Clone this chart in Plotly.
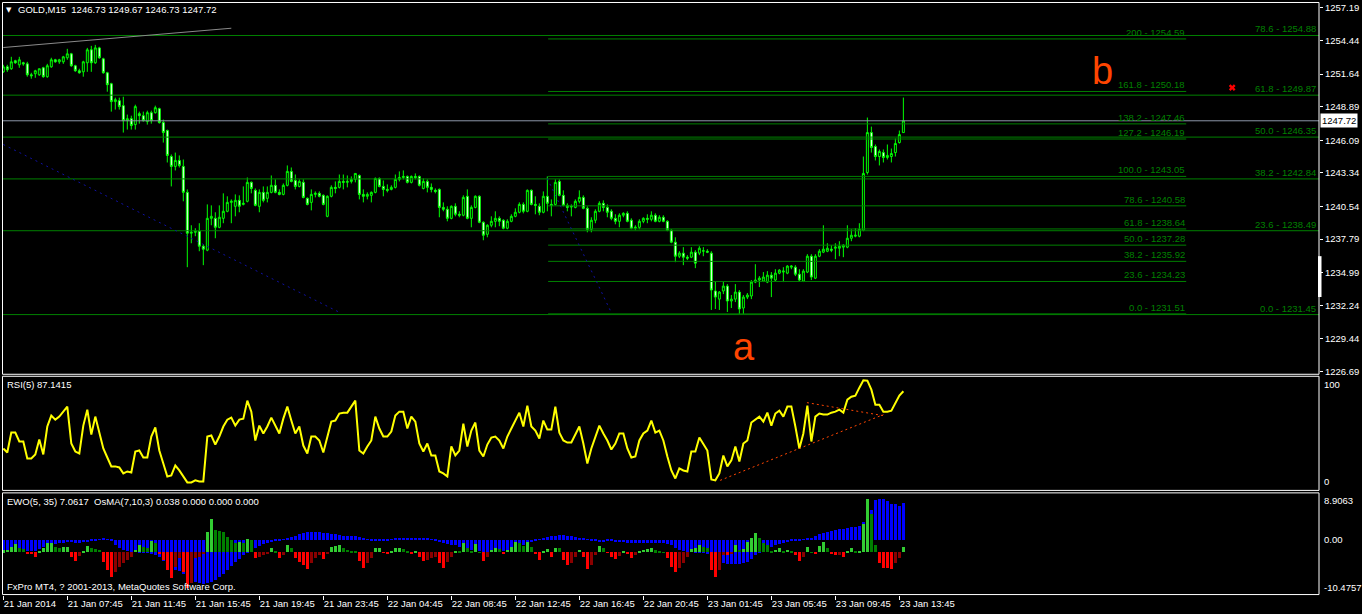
import plotly.graph_objects as go

W, H = 1362, 614

# ---------------- data ----------------
opens = [
    1251.83, 1252.25, 1252.09, 1252.76, 1252.42, 1252.59, 1252.50, 1251.58, 1251.67, 1251.58,
    1252.17, 1251.42, 1252.25, 1252.84, 1252.67, 1252.67, 1253.01, 1253.34, 1252.34, 1251.92,
    1251.83, 1252.59, 1253.68, 1252.59, 1253.84, 1252.92, 1251.75, 1250.83, 1249.33, 1249.41,
    1248.99, 1247.73, 1247.90, 1247.40, 1248.32, 1248.15, 1247.65, 1248.40, 1248.40, 1248.74,
    1247.57, 1246.90, 1244.72, 1243.89, 1244.39, 1243.89, 1241.71, 1238.28, 1238.36, 1238.45,
    1237.19, 1236.86, 1239.53, 1239.53, 1238.78, 1239.53, 1240.12, 1240.87, 1240.54, 1241.04,
    1240.70, 1240.96, 1242.55, 1241.88, 1240.54, 1241.71, 1241.21, 1241.71, 1242.30, 1241.71,
    1241.54, 1242.30, 1243.47, 1242.71, 1242.21, 1242.55, 1241.21, 1240.87, 1241.54, 1241.63,
    1241.46, 1239.70, 1241.38, 1242.13, 1242.13, 1242.63, 1242.55, 1242.63, 1242.80, 1243.13,
    1241.54, 1241.38, 1241.46, 1241.71, 1242.88, 1242.21, 1241.96, 1241.96, 1242.13, 1242.80,
    1242.96, 1243.05, 1242.55, 1243.05, 1243.05, 1242.04, 1242.63, 1242.13, 1241.88, 1241.96,
    1240.45, 1240.29, 1239.53, 1240.54, 1239.87, 1239.79, 1241.38, 1239.53, 1240.45, 1241.38,
    1239.20, 1238.19, 1238.95, 1239.28, 1239.53, 1239.37, 1238.70, 1239.28, 1239.70, 1240.04,
    1240.70, 1240.12, 1241.88, 1240.70, 1240.54, 1240.04, 1241.38, 1240.70, 1240.70, 1242.63,
    1241.46, 1240.62, 1240.54, 1240.45, 1240.96, 1241.29, 1240.37, 1238.61, 1239.37, 1240.12,
    1240.79, 1240.45, 1240.12, 1239.53, 1239.28, 1239.79, 1239.95, 1239.37, 1238.70, 1238.78,
    1239.28, 1239.53, 1239.45, 1239.79, 1239.28, 1239.62, 1239.28, 1238.53, 1237.53, 1236.35,
    1236.61, 1236.27, 1236.27, 1236.69, 1236.61, 1236.77, 1236.77, 1236.61, 1233.43, 1232.75,
    1233.43, 1233.84, 1232.59, 1232.75, 1233.34, 1232.00, 1232.92, 1233.01, 1234.18, 1234.35,
    1234.26, 1234.18, 1234.76, 1234.35, 1234.93, 1235.02, 1234.93, 1235.43, 1235.43, 1234.84,
    1234.26, 1235.02, 1236.35, 1234.51, 1236.35, 1236.69, 1236.77, 1236.94, 1237.02, 1237.02,
    1237.11, 1237.11, 1237.86, 1238.03, 1238.03, 1238.53, 1243.38, 1246.73, 1245.56, 1244.72,
    1245.05, 1244.64, 1244.72, 1245.05, 1245.89, 1246.73,
]
highs = [
    1252.42, 1252.42, 1253.09, 1252.84, 1253.09, 1252.67, 1252.67, 1251.75, 1252.00, 1252.09,
    1252.25, 1252.50, 1253.01, 1252.92, 1252.92, 1253.17, 1253.76, 1253.42, 1252.42, 1252.09,
    1252.76, 1253.84, 1254.01, 1254.09, 1253.93, 1253.01, 1251.83, 1250.91, 1249.66, 1249.66,
    1249.74, 1248.24, 1248.15, 1249.07, 1248.49, 1248.49, 1248.57, 1248.57, 1248.99, 1248.82,
    1247.82, 1246.98, 1244.89, 1245.05, 1244.81, 1244.47, 1241.96, 1238.95, 1238.70, 1239.12,
    1237.36, 1240.70, 1240.62, 1240.04, 1240.62, 1241.63, 1241.38, 1241.12, 1241.54, 1241.46,
    1242.21, 1242.96, 1242.63, 1242.04, 1241.96, 1242.21, 1242.21, 1243.13, 1242.80, 1241.96,
    1242.46, 1243.97, 1243.80, 1243.21, 1242.80, 1242.80, 1241.29, 1241.96, 1241.79, 1241.79,
    1241.54, 1241.46, 1242.30, 1242.63, 1243.21, 1243.21, 1243.13, 1243.05, 1243.30, 1243.21,
    1241.96, 1241.71, 1241.79, 1242.96, 1242.96, 1242.71, 1242.38, 1242.30, 1243.21, 1243.47,
    1243.55, 1243.13, 1243.13, 1243.30, 1243.13, 1242.88, 1242.80, 1242.46, 1242.04, 1242.04,
    1240.87, 1240.54, 1240.62, 1240.79, 1240.12, 1241.46, 1241.96, 1240.62, 1241.46, 1241.46,
    1239.28, 1239.03, 1239.70, 1240.12, 1239.70, 1239.45, 1239.45, 1239.87, 1240.37, 1240.87,
    1240.87, 1241.96, 1241.96, 1241.38, 1240.79, 1241.79, 1243.05, 1241.12, 1242.80, 1242.80,
    1241.88, 1240.79, 1240.70, 1241.12, 1241.88, 1241.46, 1240.54, 1239.62, 1240.29, 1240.96,
    1241.04, 1240.70, 1240.29, 1239.87, 1239.95, 1240.04, 1240.12, 1239.53, 1238.95, 1239.45,
    1239.62, 1239.87, 1240.12, 1239.95, 1239.79, 1239.79, 1239.37, 1238.61, 1237.94, 1236.77,
    1237.11, 1236.44, 1237.11, 1236.86, 1237.19, 1237.11, 1236.94, 1236.77, 1234.26, 1233.43,
    1234.18, 1234.01, 1233.09, 1234.01, 1233.51, 1233.09, 1233.26, 1234.35, 1235.68, 1234.68,
    1235.02, 1235.10, 1235.02, 1235.26, 1235.26, 1235.43, 1235.60, 1235.60, 1235.60, 1235.26,
    1235.26, 1236.52, 1236.52, 1236.52, 1236.94, 1238.95, 1237.44, 1237.27, 1237.44, 1237.61,
    1237.36, 1238.95, 1238.61, 1238.70, 1239.12, 1244.72, 1247.99, 1247.23, 1245.73, 1245.31,
    1245.31, 1245.73, 1245.39, 1246.23, 1246.90, 1249.67,
]
lows = [
    1251.75, 1251.83, 1252.00, 1252.50, 1252.17, 1252.34, 1251.42, 1251.25, 1251.33, 1251.50,
    1251.33, 1251.33, 1252.17, 1252.59, 1252.50, 1252.50, 1252.84, 1252.25, 1251.83, 1251.67,
    1251.42, 1251.83, 1251.83, 1252.50, 1252.92, 1251.67, 1250.16, 1248.49, 1248.66, 1248.66,
    1246.73, 1246.98, 1246.98, 1246.98, 1247.48, 1247.65, 1247.40, 1247.48, 1248.32, 1247.48,
    1245.89, 1244.22, 1242.21, 1243.55, 1243.80, 1240.96, 1235.43, 1237.44, 1238.03, 1236.77,
    1235.60, 1236.77, 1238.95, 1237.86, 1238.70, 1239.12, 1240.04, 1239.12, 1239.70, 1240.04,
    1240.62, 1240.87, 1241.63, 1240.54, 1240.04, 1240.87, 1240.87, 1241.63, 1241.63, 1241.46,
    1241.46, 1242.21, 1242.55, 1241.96, 1242.13, 1241.21, 1240.62, 1240.20, 1241.29, 1241.29,
    1240.62, 1239.62, 1241.29, 1241.63, 1242.04, 1241.96, 1242.13, 1242.46, 1242.55, 1241.12,
    1240.87, 1241.12, 1240.87, 1241.63, 1242.13, 1241.38, 1241.71, 1241.88, 1242.04, 1242.63,
    1242.80, 1242.46, 1242.46, 1242.80, 1242.21, 1241.96, 1241.71, 1241.71, 1241.63, 1239.62,
    1240.12, 1239.28, 1239.45, 1239.70, 1239.62, 1239.70, 1239.45, 1238.78, 1240.37, 1239.12,
    1237.69, 1237.94, 1238.78, 1238.78, 1238.87, 1238.61, 1238.61, 1239.20, 1239.62, 1239.95,
    1239.95, 1240.04, 1240.62, 1239.87, 1239.79, 1239.95, 1240.12, 1239.70, 1240.62, 1241.38,
    1240.54, 1240.12, 1239.70, 1240.37, 1240.79, 1240.29, 1238.36, 1238.36, 1239.12, 1240.04,
    1240.12, 1239.62, 1239.37, 1239.03, 1238.78, 1239.62, 1239.20, 1238.61, 1238.53, 1238.61,
    1239.12, 1239.12, 1239.28, 1239.20, 1239.20, 1239.20, 1238.45, 1237.44, 1235.85, 1236.19,
    1235.60, 1236.02, 1236.19, 1235.35, 1236.44, 1236.35, 1236.61, 1231.84, 1231.92, 1231.84,
    1233.17, 1231.67, 1232.00, 1232.50, 1231.50, 1231.50, 1232.75, 1232.75, 1234.09, 1233.76,
    1234.18, 1234.09, 1232.92, 1234.26, 1234.84, 1234.18, 1234.84, 1235.26, 1234.68, 1234.26,
    1234.18, 1234.93, 1234.35, 1234.43, 1236.27, 1236.61, 1236.69, 1236.69, 1236.10, 1236.35,
    1236.27, 1237.02, 1237.61, 1237.94, 1237.94, 1238.45, 1243.21, 1245.05, 1244.39, 1243.97,
    1244.22, 1244.47, 1244.22, 1244.72, 1245.81, 1246.73,
]
closes = [
    1252.25, 1252.00, 1252.67, 1252.59, 1252.84, 1252.50, 1251.58, 1251.50, 1251.92, 1252.09,
    1251.42, 1252.34, 1252.84, 1252.67, 1252.84, 1253.09, 1253.34, 1252.34, 1251.92, 1251.75,
    1252.67, 1253.68, 1252.59, 1253.84, 1253.01, 1251.75, 1250.75, 1249.33, 1249.49, 1248.91,
    1247.73, 1247.90, 1247.32, 1248.91, 1248.15, 1247.73, 1248.40, 1247.73, 1248.82, 1247.57,
    1246.73, 1244.81, 1243.89, 1244.39, 1243.97, 1241.71, 1238.28, 1238.36, 1238.45, 1237.19,
    1236.94, 1239.53, 1239.70, 1238.78, 1239.62, 1240.12, 1240.87, 1240.96, 1241.04, 1240.54,
    1240.79, 1242.55, 1242.04, 1240.62, 1241.71, 1241.04, 1241.71, 1242.30, 1241.71, 1241.54,
    1242.30, 1243.47, 1242.63, 1242.21, 1242.63, 1241.29, 1240.70, 1241.54, 1241.63, 1241.38,
    1240.70, 1241.38, 1242.13, 1242.04, 1242.63, 1242.55, 1242.63, 1242.80, 1243.30, 1241.54,
    1241.38, 1241.54, 1241.71, 1242.88, 1242.21, 1241.96, 1241.88, 1242.13, 1242.80, 1242.96,
    1243.05, 1242.55, 1243.05, 1242.96, 1242.30, 1242.63, 1242.13, 1241.96, 1241.79, 1240.45,
    1240.29, 1239.53, 1240.54, 1239.87, 1239.79, 1241.29, 1239.53, 1240.45, 1241.38, 1239.20,
    1238.11, 1238.95, 1239.28, 1239.53, 1239.28, 1238.70, 1239.28, 1239.70, 1240.04, 1240.70,
    1240.12, 1241.88, 1240.70, 1240.62, 1240.04, 1241.38, 1240.79, 1240.62, 1242.55, 1241.46,
    1240.62, 1240.45, 1240.50, 1240.96, 1241.29, 1240.37, 1238.61, 1239.37, 1240.12, 1240.79,
    1240.45, 1240.04, 1239.53, 1239.28, 1239.79, 1239.95, 1239.28, 1238.70, 1238.78, 1239.28,
    1239.53, 1239.45, 1239.79, 1239.28, 1239.62, 1239.28, 1238.53, 1237.53, 1236.35, 1236.61,
    1236.27, 1236.19, 1236.69, 1235.77, 1237.02, 1236.81, 1236.69, 1233.51, 1232.92, 1233.34,
    1233.84, 1232.59, 1232.75, 1233.34, 1231.92, 1232.92, 1233.09, 1234.18, 1234.35, 1234.51,
    1234.60, 1234.76, 1234.51, 1234.93, 1235.18, 1235.10, 1235.52, 1235.52, 1234.84, 1234.35,
    1235.10, 1236.35, 1234.60, 1236.35, 1236.77, 1236.94, 1237.02, 1236.86, 1237.11, 1237.19,
    1237.27, 1237.86, 1238.11, 1238.11, 1238.61, 1243.30, 1246.73, 1245.48, 1244.72, 1245.14,
    1244.64, 1244.81, 1244.97, 1245.81, 1246.56, 1247.72,
]

rsi = [
    36.3, 32.7, 50.4, 50.4, 42.5, 42.5, 27.4, 27.4, 31.0, 44.3,
    31.0, 55.8, 65.5, 61.9, 64.6, 69.0, 73.5, 40.7, 33.6, 31.9,
    56.6, 70.8, 48.7, 64.6, 51.3, 36.3, 28.3, 20.4, 20.4, 19.5,
    14.2, 15.9, 15.0, 33.6, 34.5, 28.3, 28.3, 46.9, 54.9, 34.5,
    23.0, 11.5, 12.4, 21.2, 16.8, 11.5, 6.2, 6.2, 8.0, 7.1,
    7.1, 46.9, 47.8, 39.8, 46.9, 55.8, 61.9, 63.7, 56.6, 61.9,
    62.8, 78.8, 69.0, 43.4, 56.6, 49.6, 55.8, 63.7, 56.6, 49.6,
    62.8, 73.5, 61.1, 49.6, 55.8, 38.9, 31.9, 46.9, 46.9, 43.4,
    32.7, 47.8, 60.2, 61.1, 67.3, 68.1, 68.1, 73.5, 78.8, 34.5,
    31.9, 38.1, 43.4, 64.6, 54.0, 46.9, 46.9, 51.3, 65.5, 69.0,
    69.0, 54.0, 64.6, 60.2, 40.7, 33.6, 40.7, 30.1, 30.1, 15.9,
    14.2, 11.5, 38.1, 30.1, 34.5, 58.4, 38.1, 52.2, 59.3, 34.5,
    29.2, 39.8, 46.0, 46.9, 43.4, 36.3, 46.9, 54.0, 61.1, 68.1,
    55.8, 74.3, 55.8, 52.2, 45.1, 61.1, 53.1, 53.1, 73.5, 50.4,
    43.4, 41.6, 41.6, 48.7, 55.8, 40.7, 23.0, 36.3, 46.9, 56.6,
    49.6, 43.4, 35.4, 40.7, 49.6, 49.6, 36.3, 28.3, 29.2, 43.4,
    49.6, 52.2, 61.1, 50.4, 52.2, 43.4, 29.2, 16.8, 9.7, 18.6,
    16.8, 15.9, 33.6, 33.6, 46.0, 40.7, 34.5, 8.9, 8.0, 14.2,
    30.1, 20.4, 25.7, 38.1, 24.8, 40.7, 43.4, 59.3, 61.9, 64.6,
    60.2, 68.1, 56.6, 67.3, 69.9, 64.6, 73.5, 73.5, 55.8, 36.3,
    49.6, 74.3, 42.5, 64.6, 67.3, 66.4, 66.4, 68.1, 69.0, 70.8,
    68.1, 79.7, 82.3, 83.2, 90.3, 96.8, 96.5, 88.5, 75.2, 75.2,
    69.0, 69.0, 69.9, 77.0, 83.2, 87.1415,
]

ewo = [
    -2.4, -2.4, -2.4, -2.3, -2.3, -2.2, -2.2, -2.2, -2.1,
    -1.8, -1.4, -1.1, -0.9, -0.8, -0.7, -0.6, -0.5, -0.5, -0.6, -0.6, -0.5, -0.4, -0.3, -0.2,
    0.1, 0.2, 0.1, -0.2,
    -1.0, -1.6, -2.0, -2.2, -2.3,
    -2.4, -2.5, -2.6, -2.6, -2.7, -3.0, -3.3,
    -4.0, -4.8, -5.5, -5.8, -6.0, -6.5, -7.3, -7.8, -8.0, -8.2,
    -8.4, -8.3, -8.0, -7.6, -7.2,
    -6.5, -5.8, -5.0, -4.3, -3.6, -3.0, -2.5, -2.0,
    -1.6, -1.2, -0.9, -0.6, -0.4, -0.2, -0.1, 0.1,
    0.4, 0.6, 0.8, 1.0, 1.2, 1.4, 1.5, 1.5, 1.4, 1.3, 1.2, 1.1, 1.0, 0.9, 0.8, 0.8, 0.7, 0.7, 0.6, 0.4,
    0.1, -0.1, -0.2, -0.2, -0.2, -0.1,
    0.1, 0.2, 0.3, 0.3, 0.4, 0.4, 0.4, 0.4, 0.3, 0.2, 0.1, -0.1,
    -0.4, -0.6, -0.8, -1.0, -1.1, -1.3,
    -1.5, -1.8, -2.0, -2.1, -2.2, -2.3, -2.4, -2.4, -2.3, -2.2, -2.1, -2.0, -1.8, -1.6, -1.3, -1.0, -0.7, -0.4, -0.2,
    0.1, 0.3, 0.5, 0.7, 0.8, 0.9, 0.9,
    0.8, 0.7, 0.6, 0.4, 0.3, 0.1, -0.1,
    -0.3, -0.4, -0.4, -0.3, -0.3, -0.4, -0.5, -0.5, -0.6, -0.7, -0.7, -0.7, -0.6, -0.6, -0.6, -0.6, -0.7, -0.7, -0.8, -1.0,
    -1.5, -2.0, -2.2, -2.3, -2.3,
    -2.5, -2.6, -2.6, -2.7, -3.0, -3.5,
    -4.0, -4.4, -4.6, -4.7, -4.7, -4.6, -4.4, -4.2,
    -3.6, -3.0, -2.5, -2.0, -1.6, -1.3, -1.0,
    -0.8, -0.6, -0.4, -0.3, -0.2, -0.1, 0.1, 0.2,
    0.4, 0.7, 1.0, 1.3, 1.5, 1.7, 1.9, 2.0, 2.1, 2.2, 2.4, 2.5, 2.6,
    3.3, 4.5, 5.6,
    7.5, 7.8, 7.8, 7.3, 6.8, 6.8, 6.5, 7.0617,
]

osma = [
    0.015, 0.018, 0.043, 0.061, 0.030, 0.023, -0.015, -0.015, -0.033, 0.010,
    0.030, 0.068, 0.070, 0.043, 0.030, 0.038, 0.043, -0.033, -0.066, -0.028,
    0.005, 0.051, 0.030, 0.025, 0.018, -0.071, -0.134, -0.184, -0.146, -0.109,
    -0.083, -0.058, -0.033, 0.018, 0.056, 0.043, 0.035, 0.086, 0.068, -0.008,
    -0.058, -0.134, -0.192, -0.109, -0.045, -0.146, -0.273, -0.235, -0.045, -0.038,
    -0.008, 0.157, 0.250, 0.169, 0.164, 0.157, 0.119, 0.093, 0.073, 0.076,
    0.068, 0.098, 0.093, -0.040, -0.038, -0.020, -0.008, 0.030, 0.005, -0.045,
    -0.020, 0.056, 0.030, -0.045, -0.076, -0.096, -0.126, -0.083, -0.045, -0.020,
    -0.051, -0.015, 0.043, 0.051, 0.052, 0.030, 0.018, 0.010, 0.005, -0.066,
    -0.116, -0.083, -0.040, 0.030, 0.031, -0.005, -0.013, 0.010, 0.030, 0.031,
    0.025, 0.004, -0.008, 0.003, -0.033, -0.066, -0.058, -0.045, -0.038, -0.083,
    -0.121, -0.071, -0.033, 0.005, 0.003, 0.068, 0.030, 0.010, 0.061, 0.001,
    -0.066, -0.033, 0.018, 0.030, 0.023, -0.013, 0.018, 0.043, 0.076, 0.068,
    0.051, 0.081, 0.043, -0.015, -0.058, 0.005, 0.023, -0.033, 0.035, 0.030,
    -0.058, -0.096, -0.083, -0.033, 0.018, -0.033, -0.129, -0.096, -0.020, 0.051,
    0.030, -0.003, -0.033, -0.053, -0.028, 0.010, -0.015, -0.045, -0.020, 0.005,
    0.018, 0.023, 0.030, 0.015, 0.010, 0.001, -0.045, -0.109, -0.146, -0.116,
    -0.083, -0.033, 0.023, 0.030, 0.056, 0.043, 0.035, -0.134, -0.184, -0.134,
    -0.020, -0.021, -0.013, 0.056, 0.018, 0.023, 0.081, 0.111, 0.144, 0.106,
    0.068, 0.056, 0.010, 0.018, 0.030, 0.010, 0.018, 0.013, -0.020, -0.066,
    -0.033, 0.043, 0.001, -0.015, 0.051, 0.081, 0.030, -0.015, -0.020, -0.019,
    -0.038, 0.010, 0.030, 0.010, 0.011, 0.212, 0.409, 0.295, 0.056, -0.083,
    -0.121, -0.122, -0.126, -0.083, -0.045, 0.038,
]

time_labels = [
    "21 Jan 2014", "21 Jan 07:45", "21 Jan 11:45", "21 Jan 15:45", "21 Jan 19:45",
    "21 Jan 23:45", "22 Jan 04:45", "22 Jan 08:45", "22 Jan 12:45", "22 Jan 16:45",
    "22 Jan 20:45", "23 Jan 01:45", "23 Jan 05:45", "23 Jan 09:45", "23 Jan 13:45",
]
price_ticks = [1257.19, 1254.44, 1251.64, 1248.89, 1246.09, 1243.34,
               1240.54, 1237.79, 1234.99, 1232.24, 1229.44, 1226.69]

fib_a_names = ["200", "161.8", "138.2", "127.2", "100.0", "78.6", "61.8", "50.0", "38.2", "23.6", "0.0"]
fib_a_prices = [1254.59, 1250.18, 1247.46, 1246.19, 1243.05, 1240.58, 1238.64, 1237.28, 1235.92, 1234.23, 1231.51]
fib_b_names = ["78.6", "61.8", "50.0", "38.2", "23.6", "0.0"]
fib_b_prices = [1254.88, 1249.87, 1246.35, 1242.84, 1238.49, 1231.45]
fib_a_bar = 136

# drawn trendlines (bar index, value)
grey_trend = ([0, 57], [1253.87, 1255.49])
navy_trend1 = ([0, 84.4], [1245.73, 1231.58])
navy_trend2 = ([136, 151.8], [1242.88, 1231.75])
rsi_trend_low = ([179.2, 220], [8.0, 66.4])
rsi_trend_high = ([200.9, 219.9], [77.0, 65.5])

bars = list(range(len(closes)))


def px(x):
    return x / W


def py(y):
    return 1 - y / H


X_LO, X_HI = -0.2, 328.9
FIB_A_END = 295.7
FONT = "Liberation Sans, Arial, sans-serif"
GREEN = "#008000"

fig = go.Figure()

# fib levels
xs, ys = [], []
for p in fib_a_prices:
    xs += [fib_a_bar + 0.2, FIB_A_END, None]
    ys += [p, p, None]
for p in fib_b_prices:
    xs += [X_LO, X_HI, None]
    ys += [p, p, None]
fig.add_trace(go.Scatter(x=xs, y=ys, mode="lines", line=dict(color=GREEN, width=1),
                         hoverinfo="skip", yaxis="y"))

# bid line
fig.add_trace(go.Scatter(x=[X_LO, X_HI], y=[closes[-1]] * 2, mode="lines",
                         line=dict(color="#8C96A8", width=1), hoverinfo="skip"))

# drawn lines
fig.add_trace(go.Scatter(x=grey_trend[0], y=grey_trend[1], mode="lines",
                         line=dict(color="#8a8a8a", width=1), hoverinfo="skip"))
for tl in (navy_trend1, navy_trend2):
    fig.add_trace(go.Scatter(x=tl[0], y=tl[1], mode="lines",
                             line=dict(color="#1010A0", width=1, dash="2px,4px"), hoverinfo="skip"))

fig.add_trace(go.Candlestick(
    x=bars, open=opens, high=highs, low=lows, close=closes,
    increasing=dict(line=dict(color="#00FF00", width=1), fillcolor="#000000"),
    decreasing=dict(line=dict(color="#00FF00", width=1), fillcolor="#FFFFFF"),
    whiskerwidth=0, hoverinfo="skip", yaxis="y",
))

# red cross marker
fig.add_trace(go.Scatter(x=[307.2], y=[1250.5], mode="markers",
                         marker=dict(symbol="x", size=6, color="#FF0000", line=dict(width=0)),
                         hoverinfo="skip"))

# RSI
fig.add_trace(go.Scatter(x=bars, y=rsi, mode="lines", line=dict(color="#FFFF00", width=2),
                         hoverinfo="skip", yaxis="y2"))
for tl in (rsi_trend_low, rsi_trend_high):
    fig.add_trace(go.Scatter(x=tl[0], y=tl[1], mode="lines",
                             line=dict(color="#FF4500", width=1, dash="2px,3px"),
                             hoverinfo="skip", yaxis="y2"))

# EWO + OsMA
fig.add_trace(go.Bar(x=bars, y=ewo, width=0.75, marker=dict(color="#0000FF", line=dict(width=0)),
                     hoverinfo="skip", yaxis="y3"))
osma_colors = []
for k, v in enumerate(osma):
    prev = osma[k - 1] if k else v
    if v >= 0:
        osma_colors.append("#32CD32" if v >= prev else "#008000")
    else:
        osma_colors.append("#FF0000" if v <= prev else "#8B0000")
fig.add_trace(go.Bar(x=bars, y=osma, width=0.75, marker=dict(color=osma_colors, line=dict(width=0)),
                     hoverinfo="skip", yaxis="y4"))

ann = []
txt = dict(family=FONT, size=9.5, color="#FFFFFF")
for name, p in zip(fib_a_names, fib_a_prices):
    ann.append(dict(x=FIB_A_END, y=p, xref="x", yref="y", text=f"{name} - {p:.2f}",
                    showarrow=False, xanchor="right", yanchor="bottom",
                    font=dict(family=FONT, size=9.5, color=GREEN), borderpad=0))
for name, p in zip(fib_b_names, fib_b_prices):
    ann.append(dict(x=X_HI - 0.6, y=p, xref="x", yref="y", text=f"{name} - {p:.2f}",
                    showarrow=False, xanchor="right", yanchor="bottom",
                    font=dict(family=FONT, size=9.5, color=GREEN), borderpad=0))

ann += [
    dict(x=px(4), y=py(10), xref="paper", yref="paper", text="▼", showarrow=False,
         xanchor="left", yanchor="middle", font=dict(family="DejaVu Sans", size=7, color="#FFFFFF")),
    dict(x=px(16), y=py(10), xref="paper", yref="paper",
         text=f"GOLD,M15  {opens[-1]:.2f} {highs[-1]:.2f} {lows[-1]:.2f} {closes[-1]:.2f}",
         showarrow=False, xanchor="left", yanchor="middle", font=txt),
    dict(x=px(5), y=py(386), xref="paper", yref="paper", text=f"RSI(5) {rsi[-1]:.4f}",
         showarrow=False, xanchor="left", yanchor="middle", font=txt),
    dict(x=px(5), y=py(503), xref="paper", yref="paper",
         text=f"EWO(5, 35) {ewo[-1]:.4f}  OsMA(7,10,3) {osma[-1]:.3f} 0.000 0.000 0.000",
         showarrow=False, xanchor="left", yanchor="middle", font=txt),
    dict(x=px(5), y=py(588), xref="paper", yref="paper",
         text="FxPro MT4, ? 2001-2013, MetaQuotes Software Corp.",
         showarrow=False, xanchor="left", yanchor="middle", font=txt),
    # wave labels
    dict(x=274.7, y=1251.9, xref="x", yref="y", text="b", showarrow=False,
         font=dict(family=FONT, size=38, color="#FF4500")),
    dict(x=185.2, y=1228.7, xref="x", yref="y", text="a", showarrow=False,
         font=dict(family=FONT, size=38, color="#FF4500")),
    # current price tag
    dict(x=px(1320), y=closes[-1], xref="paper", yref="y", text=f"{closes[-1]:.2f}",
         showarrow=False, xanchor="left", yanchor="middle", bgcolor="#FFFFFF",
         font=dict(family=FONT, size=9.5, color="#000000"), borderpad=1),
    # indicator scales
    dict(x=px(1322), y=100, xref="paper", yref="y2", text="100", showarrow=False,
         xanchor="left", yanchor="top", font=txt),
    dict(x=px(1322), y=0, xref="paper", yref="y2", text="0", showarrow=False,
         xanchor="left", yanchor="bottom", font=txt),
    dict(x=px(1322), y=py(494.5), xref="paper", yref="paper", text="8.9063", showarrow=False,
         xanchor="left", yanchor="top", font=txt),
    dict(x=px(1322), y=0, xref="paper", yref="y3", text="0.00", showarrow=False,
         xanchor="left", yanchor="middle", font=txt),
    dict(x=px(1322), y=py(596.5), xref="paper", yref="paper", text="-10.4757", showarrow=False,
         xanchor="left", yanchor="bottom", font=txt),
]

box = dict(type="rect", xref="paper", yref="paper", line=dict(color="#FFFFFF", width=1))
shapes = [
    dict(box, x0=px(2.5), x1=px(1319), y0=py(375.5), y1=py(2.5)),
    dict(box, x0=px(2.5), x1=px(1319), y0=py(492), y1=py(377.5)),
    dict(box, x0=px(2.5), x1=px(1319), y0=py(596.5), y1=py(494.5)),
    dict(type="rect", xref="paper", yref="paper", x0=px(1318), x1=px(1321.5),
         y0=py(298), y1=py(257), fillcolor="#FFFFFF", line=dict(width=0)),
]

fig.update_layout(
    width=W, height=H,
    margin=dict(l=0, r=0, t=0, b=0),
    paper_bgcolor="#000000", plot_bgcolor="#000000",
    showlegend=False, barmode="overlay", bargap=0,
    annotations=ann, shapes=shapes,
    xaxis=dict(domain=[px(2.5), px(1319)], range=[X_LO, X_HI], anchor="y3",
               tickvals=[16 * k for k in range(len(time_labels))], ticktext=time_labels,
               ticks="outside", ticklen=4, tickcolor="#FFFFFF",
               ticklabelposition="outside right",
               tickfont=dict(family=FONT, size=9.5, color="#FFFFFF"),
               showgrid=False, zeroline=False, showline=False,
               rangeslider=dict(visible=False)),
    yaxis=dict(domain=[py(375.5), py(2.5)], range=[1226.44, 1257.65], side="right", anchor="x",
               tickvals=price_ticks, ticktext=[f"{v:.2f}" for v in price_ticks],
               ticks="outside", ticklen=3, tickcolor="#FFFFFF",
               tickfont=dict(family=FONT, size=9.5, color="#FFFFFF"),
               showgrid=False, zeroline=False, showline=False),
    yaxis2=dict(domain=[py(492), py(377.5)], range=[-0.9, 100.4], anchor="x",
                showticklabels=False, showgrid=False, zeroline=False),
    yaxis3=dict(domain=[py(596.5), py(494.5)], range=[-10.4757, 8.9063], anchor="x",
                showticklabels=False, showgrid=False, zeroline=False),
    yaxis4=dict(overlaying="y3", range=[-0.322, 0.4508], anchor="x",
                showticklabels=False, showgrid=False, zeroline=False),
)

fig.write_html("out.html", config={"displayModeBar": False},
               post_script="document.body.style.margin='0';document.body.style.background='#000';")
